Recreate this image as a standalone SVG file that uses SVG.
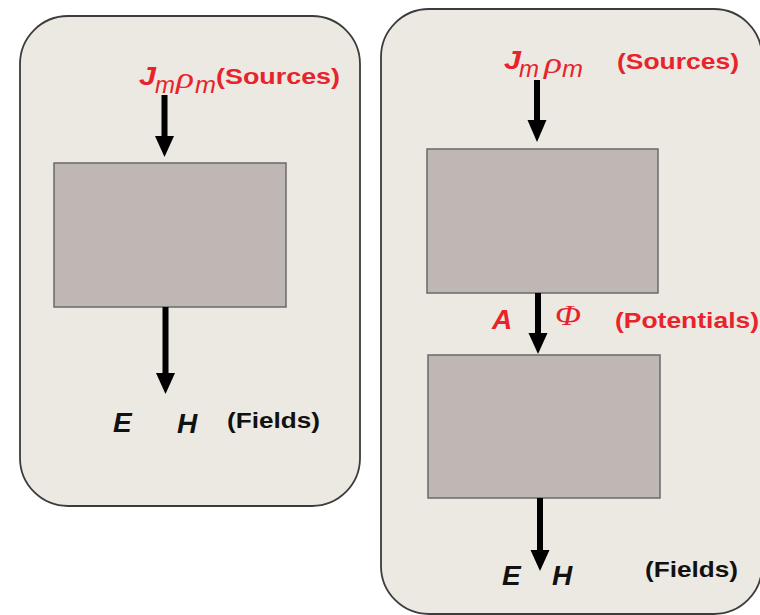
<svg xmlns="http://www.w3.org/2000/svg" width="760" height="615" viewBox="0 0 760 615">
<style>
.panel{fill:#ebe9e1;stroke:#3c3c3c;stroke-width:1.8}
.box{fill:#bfb7b3;stroke:#6a6a6a;stroke-width:1.5}
.red{fill:#e8232b}
.blk{fill:#111}
.sans{font-family:"Liberation Sans",Arial,sans-serif}
.bi{font-weight:bold;font-style:italic}
.b{font-weight:bold}
.it{font-style:italic}
.greek{font-family:"Liberation Serif","DejaVu Serif",serif;font-style:italic}
.shaft{fill:#000}
</style>
<rect width="760" height="615" fill="#ffffff"/>
<g id="panel-left"><rect class="panel" x="20" y="16" width="340" height="490" rx="48" ry="48"/></g>
<g id="panel-right"><rect class="panel" x="381" y="9" width="381" height="605" rx="48" ry="48"/></g>
<g id="box-left"><rect class="box" x="54" y="163" width="232" height="144"/></g>
<g id="box-right-top"><rect class="box" x="427" y="149" width="231" height="144"/></g>
<g id="box-right-bottom"><rect class="box" x="428" y="355" width="232" height="143"/></g>
<g id="connectors">
<rect class="shaft" x="161.5" y="95" width="6" height="42"/>
<polygon class="shaft" points="155,136 174,136 164.5,157"/>
<rect class="shaft" x="162.5" y="307" width="6" height="67"/>
<polygon class="shaft" points="156,373 175,373 165.5,394"/>
<rect class="shaft" x="534" y="80" width="6" height="41"/>
<polygon class="shaft" points="527.5,120 546.5,120 537,142"/>
<rect class="shaft" x="535" y="293" width="6" height="41"/>
<polygon class="shaft" points="528.5,333 547.5,333 538,354"/>
<rect class="shaft" x="537" y="498" width="6" height="53"/>
<polygon class="shaft" points="530.5,550 549.5,550 540,571"/>
</g>
<g id="labels-left">
<text class="red sans bi" x="139" y="85" font-size="25" textLength="17" lengthAdjust="spacingAndGlyphs">J</text>
<text class="red sans it" x="155" y="93" font-size="23" textLength="20" lengthAdjust="spacingAndGlyphs">m</text>
<text class="red greek" x="176" y="88" font-size="30" textLength="18" lengthAdjust="spacingAndGlyphs">ρ</text>
<text class="red sans it" x="195" y="93" font-size="23" textLength="21" lengthAdjust="spacingAndGlyphs">m</text>
<text class="red sans b" x="216" y="84" font-size="21.5" textLength="124" lengthAdjust="spacingAndGlyphs">(Sources)</text>
<text class="blk sans bi" x="113" y="432" font-size="28">E</text>
<text class="blk sans bi" x="177" y="433" font-size="28">H</text>
<text class="blk sans b" x="227" y="428" font-size="21.5" textLength="93" lengthAdjust="spacingAndGlyphs">(Fields)</text>
</g>
<g id="labels-right">
<text class="red sans bi" x="504" y="69" font-size="25" textLength="17" lengthAdjust="spacingAndGlyphs">J</text>
<text class="red sans it" x="519" y="77" font-size="23" textLength="20" lengthAdjust="spacingAndGlyphs">m</text>
<text class="red greek" x="544" y="73" font-size="30" textLength="18" lengthAdjust="spacingAndGlyphs">ρ</text>
<text class="red sans it" x="562" y="77" font-size="23" textLength="21" lengthAdjust="spacingAndGlyphs">m</text>
<text class="red sans b" x="617" y="69" font-size="21.5" textLength="122" lengthAdjust="spacingAndGlyphs">(Sources)</text>
<text class="red sans bi" x="492" y="329" font-size="28">A</text>
<text class="red greek" x="555" y="325" font-size="30" textLength="26" lengthAdjust="spacingAndGlyphs">Φ</text>
<text class="red sans b" x="615" y="328" font-size="22.5" textLength="144" lengthAdjust="spacingAndGlyphs">(Potentials)</text>
<text class="blk sans bi" x="502" y="585" font-size="28">E</text>
<text class="blk sans bi" x="552" y="585" font-size="28">H</text>
<text class="blk sans b" x="645" y="577" font-size="21.5" textLength="93" lengthAdjust="spacingAndGlyphs">(Fields)</text>
</g>
</svg>
